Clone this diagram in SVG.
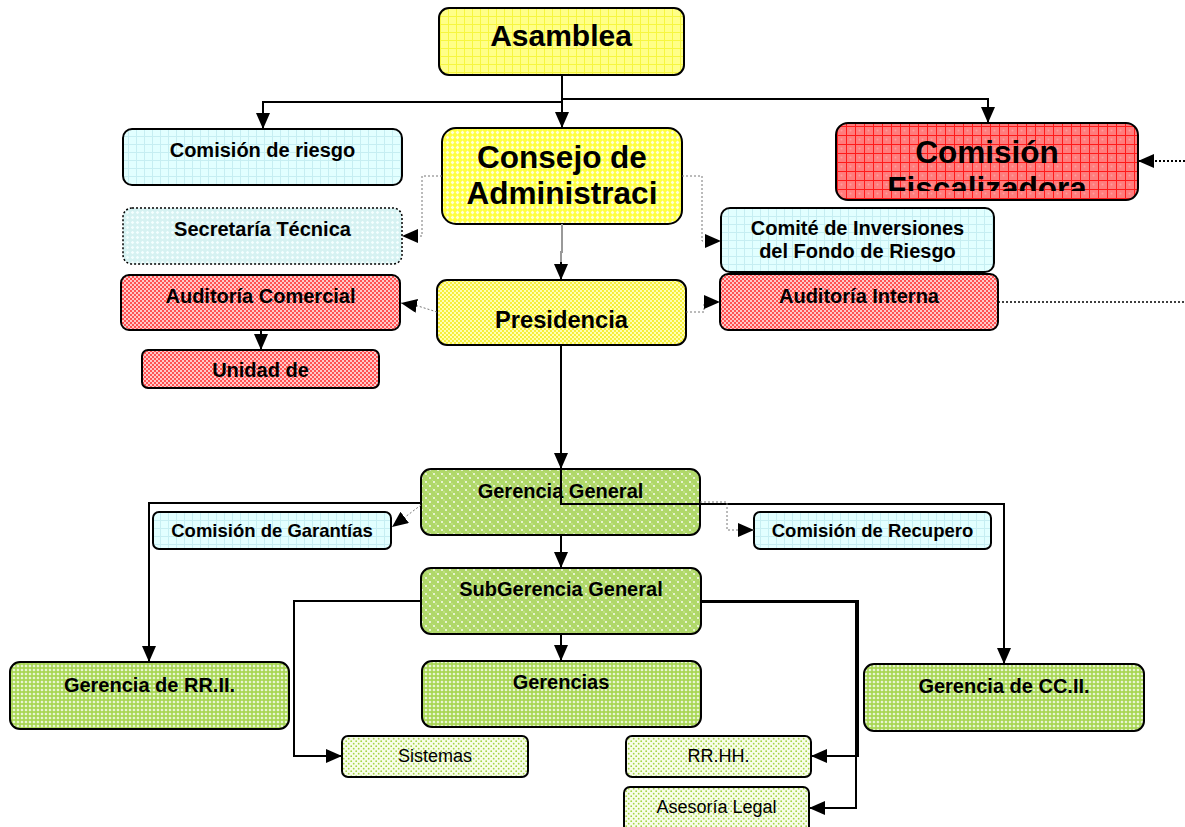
<svg xmlns="http://www.w3.org/2000/svg" width="1185" height="827" viewBox="0 0 1185 827">
<style>
.t{font-family:"Liberation Sans",Arial,sans-serif;font-weight:bold;text-anchor:middle;fill:#000}
.n{font-family:"Liberation Sans",Arial,sans-serif;font-weight:normal;text-anchor:middle;fill:#000}
.b{stroke:#000;stroke-width:2}
.dot{stroke:#000;stroke-width:1.5;stroke-dasharray:2 2}
.c{fill:none;stroke:#000;stroke-width:2}
.g{fill:none;stroke:#999;stroke-width:2}
.d{fill:none;stroke:#777;stroke-width:1;stroke-dasharray:2 2}
.dk{fill:none;stroke:#000;stroke-width:2;stroke-dasharray:2 2}
.dk1{fill:none;stroke:#000;stroke-width:1.5;stroke-dasharray:2 2}
</style>
<defs>
<marker id="ar" markerUnits="userSpaceOnUse" markerWidth="16" markerHeight="14" refX="16" refY="7" orient="auto"><path d="M0,0L16,7L0,14z" fill="#000"/></marker>
<pattern id="pGridY" width="8" height="8" patternUnits="userSpaceOnUse"><rect width="8" height="8" fill="#ffff88"/><path d="M0,0.5H8M0.5,0V8" stroke="#f6f640" stroke-width="1"/></pattern>
<pattern id="pCrossY" width="5" height="5" patternUnits="userSpaceOnUse"><rect width="5" height="5" fill="#ffff40"/><path d="M2.5,0.6L4.4,2.5L2.5,4.4L0.6,2.5z" fill="#ffffd8"/></pattern>
<pattern id="pDotY" width="4" height="4" patternUnits="userSpaceOnUse"><rect width="4" height="4" fill="#ffffb4"/><circle cx="1" cy="1" r="0.9" fill="#f2e600"/><circle cx="3" cy="3" r="0.9" fill="#f2e600"/></pattern>
<pattern id="pGridC" width="8" height="8" patternUnits="userSpaceOnUse"><rect width="8" height="8" fill="#e2ffff"/><path d="M0,0.5H8M0.5,0V8" stroke="#c6eef2" stroke-width="1"/></pattern>
<pattern id="pCrossC" width="5" height="5" patternUnits="userSpaceOnUse"><rect width="5" height="5" fill="#d6f2f2"/><path d="M2.5,0.7L4.3,2.5L2.5,4.3L0.7,2.5z" fill="#f4ffff"/></pattern>
<pattern id="pGridR" width="9" height="9" patternUnits="userSpaceOnUse"><rect width="9" height="9" fill="#ff7c7c"/><circle cx="4.5" cy="4.5" r="1" fill="#ff9c9c"/><path d="M0,0.5H9M0.5,0V9" stroke="#ff1a1a" stroke-width="1"/></pattern>
<pattern id="pDotR" width="4" height="4" patternUnits="userSpaceOnUse"><rect width="4" height="4" fill="#ffc8c8"/><circle cx="1" cy="1" r="1" fill="#ff2a2a"/><circle cx="3" cy="3" r="1" fill="#ff2a2a"/></pattern>
<pattern id="pDotG" width="8" height="8" patternUnits="userSpaceOnUse"><rect width="8" height="8" fill="#b0d86a"/><path d="M2,1V3M1,2H3M6,5V7M5,6H7" stroke="#ffffff" stroke-width="0.9"/><circle cx="4" cy="4" r="0.7" fill="#d4eea6"/><circle cx="0" cy="0" r="0.7" fill="#d4eea6"/></pattern>
<pattern id="pCrossG" width="4" height="4" patternUnits="userSpaceOnUse"><rect width="4" height="4" fill="#a8d654"/><path d="M2,0.4L3.6,2L2,3.6L0.4,2z" fill="#f0fae0"/></pattern>
<pattern id="pDotG2" width="5" height="5" patternUnits="userSpaceOnUse"><rect width="5" height="5" fill="#f8fdea"/><circle cx="1.2" cy="1.2" r="0.9" fill="#a4d444"/><circle cx="3.7" cy="3.7" r="0.9" fill="#a4d444"/></pattern>
<clipPath id="clipCF"><rect x="836" y="123" width="302" height="68"/></clipPath>
</defs>

<g id="asamblea"><rect class="b" x="439" y="8" width="245" height="67" rx="10" fill="url(#pGridY)"/><text class="t" x="561" y="46" font-size="30">Asamblea</text></g>
<g id="comision-riesgo"><rect class="b" x="123" y="129" width="279" height="56" rx="9" fill="url(#pGridC)"/><text class="t" x="262.5" y="157" font-size="20">Comisión de riesgo</text></g>
<g id="consejo"><rect class="b" x="442" y="128" width="240" height="96" rx="14" fill="url(#pCrossY)"/><text class="t" x="562" y="168" font-size="31.5">Consejo de</text><text class="t" x="562" y="204" font-size="31.5">Administraci</text></g>
<g id="comision-fiscalizadora"><rect class="b" x="836" y="123" width="302" height="77" rx="12" fill="url(#pGridR)"/><g clip-path="url(#clipCF)"><text class="t" x="987" y="163" font-size="31.5">Comisión</text><text class="t" x="987" y="199" font-size="31.5">Fiscalizadora</text></g></g>
<g id="secretaria"><rect class="dot" x="123" y="208" width="279" height="56" rx="9" fill="url(#pCrossC)"/><text class="t" x="262.5" y="236" font-size="20">Secretaría Técnica</text></g>
<g id="comite"><rect class="b" x="721" y="208" width="273" height="64" rx="9" fill="url(#pGridC)"/><text class="t" x="857.5" y="235" font-size="20">Comité de Inversiones</text><text class="t" x="857.5" y="258" font-size="20">del Fondo de Riesgo</text></g>
<g id="auditoria-comercial"><rect class="b" x="121" y="275" width="279" height="55" rx="8" fill="url(#pDotR)"/><text class="t" x="260.5" y="303" font-size="20">Auditoría Comercial</text></g>
<g id="presidencia"><rect class="b" x="437" y="280" width="249" height="65" rx="10" fill="url(#pDotY)"/><text class="t" x="561.5" y="328" font-size="23.7">Presidencia</text></g>
<g id="auditoria-interna"><rect class="b" x="720" y="274" width="278" height="56" rx="8" fill="url(#pDotR)"/><text class="t" x="859" y="303" font-size="20">Auditoría Interna</text></g>
<g id="unidad"><rect class="b" x="142" y="350" width="237" height="38" rx="6" fill="url(#pDotR)"/><text class="t" x="260.5" y="377" font-size="20">Unidad de</text></g>
<g id="gerencia-general"><rect class="b" x="421" y="469" width="279" height="66" rx="10" fill="url(#pDotG)"/><text class="t" x="560.5" y="498" font-size="20">Gerencia General</text></g>
<g id="comision-garantias"><rect class="b" x="153" y="512" width="238" height="37" rx="6" fill="url(#pGridC)"/><text class="t" x="272" y="537" font-size="18.5">Comisión de Garantías</text></g>
<g id="comision-recupero"><rect class="b" x="754" y="512" width="237" height="37" rx="6" fill="url(#pGridC)"/><text class="t" x="872.5" y="537" font-size="18.5">Comisión de Recupero</text></g>
<g id="subgerencia"><rect class="b" x="421" y="568" width="280" height="66" rx="10" fill="url(#pDotG)"/><text class="t" x="561" y="596" font-size="20">SubGerencia General</text></g>
<g id="gerencia-rrii"><rect class="b" x="10" y="662" width="279" height="67" rx="10" fill="url(#pCrossG)"/><text class="t" x="149.5" y="692" font-size="20">Gerencia de RR.II.</text></g>
<g id="gerencias"><rect class="b" x="422" y="661" width="279" height="66" rx="10" fill="url(#pCrossG)"/><text class="t" x="561" y="689" font-size="20">Gerencias</text></g>
<g id="gerencia-ccii"><rect class="b" x="864" y="664" width="280" height="67" rx="10" fill="url(#pCrossG)"/><text class="t" x="1004" y="693" font-size="20">Gerencia de CC.II.</text></g>
<g id="sistemas"><rect class="b" x="342" y="736" width="186" height="41" rx="6" fill="url(#pDotG2)"/><text class="n" x="435" y="762" font-size="18">Sistemas</text></g>
<g id="rrhh"><rect class="b" x="626" y="736" width="185" height="41" rx="6" fill="url(#pDotG2)"/><text class="n" x="718.5" y="762" font-size="18">RR.HH.</text></g>
<g id="asesoria"><rect class="b" x="624" y="787" width="185" height="50" rx="6" fill="url(#pDotG2)"/><text class="n" x="716.5" y="813" font-size="18">Asesoría Legal</text></g>

<g id="connectors">
<path class="c" d="M562,75V128" marker-end="url(#ar)"/>
<path class="c" d="M562,102H263V129" marker-end="url(#ar)"/>
<path class="c" d="M562,99H988V123" marker-end="url(#ar)"/>
<path class="d" d="M442,176H422V236H402" marker-end="url(#ar)"/>
<path class="d" d="M682,176H702V241H721" marker-end="url(#ar)"/>
<path class="g" d="M562,224V252H561V264"/>
<path class="c" d="M561,262V280" marker-end="url(#ar)"/>
<path class="dk" d="M1185,161H1138" marker-end="url(#ar)"/>
<path class="d" d="M437,312L418,306L401,303" marker-end="url(#ar)"/>
<path class="d" d="M686,312H704V302H720" marker-end="url(#ar)"/>
<path class="dk1" d="M998,302H1185"/>
<path class="c" d="M261,330V350" marker-end="url(#ar)"/>
<path class="c" d="M561,345V469" marker-end="url(#ar)"/>
<path class="c" d="M561,469V504H1004V664" marker-end="url(#ar)"/>
<path class="c" d="M421,503H149V662" marker-end="url(#ar)"/>
<path class="d" d="M421,505L392,527" marker-end="url(#ar)"/>
<path class="d" d="M700,502H727V530H754" marker-end="url(#ar)"/>
<path class="c" d="M561,535V568" marker-end="url(#ar)"/>
<path class="c" d="M561,634V661" marker-end="url(#ar)"/>
<path class="c" d="M421,601H294V756H342" marker-end="url(#ar)"/>
<path class="c" d="M701,601H858V756H811" marker-end="url(#ar)"/>
<path class="c" d="M701,602H856V808H809" marker-end="url(#ar)"/>
</g>
</svg>
